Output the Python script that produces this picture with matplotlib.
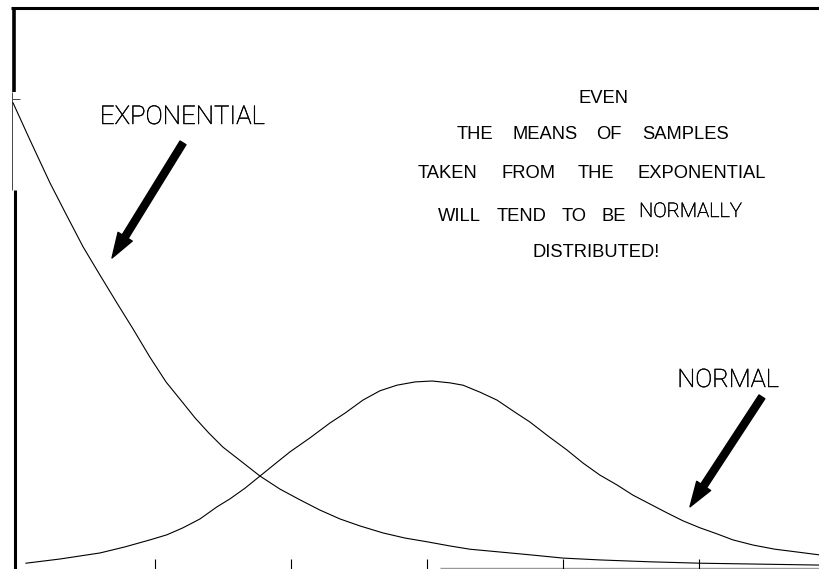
import matplotlib
matplotlib.use("Agg")
import matplotlib.pyplot as plt
import matplotlib.patheffects as pe

# ---- data (x: tick units, y: height relative to exponential start) ----
exp_x = [-0.044, 0.081, 0.228, 0.346, 0.471, 0.596, 0.721, 0.838, 0.963, 1.081,
         1.206, 1.294, 1.397, 1.500, 1.632, 1.772, 1.919, 2.066, 2.213, 2.360,
         2.507, 2.676, 2.838, 3.000, 3.169, 3.316, 3.537, 3.757, 4.000, 4.272,
         4.640, 5.007, 5.449, 5.882]
exp_y = [0.994, 0.914, 0.822, 0.755, 0.685, 0.624, 0.564, 0.509, 0.448, 0.395,
         0.350, 0.318, 0.285, 0.255, 0.225, 0.193, 0.165, 0.142, 0.120, 0.101,
         0.086, 0.071, 0.060, 0.052, 0.043, 0.036, 0.030, 0.024, 0.017, 0.013,
         0.009, 0.006, 0.004, 0.002]

norm_x = [0.051, 0.301, 0.596, 0.779, 0.963, 1.088, 1.206, 1.331, 1.456, 1.551,
          1.662, 1.772, 1.882, 1.993, 2.140, 2.287, 2.397, 2.529, 2.654, 2.779,
          2.912, 3.037, 3.169, 3.265, 3.390, 3.515, 3.647, 3.757, 3.890, 4.029,
          4.147, 4.272, 4.397, 4.515, 4.640, 4.765, 4.882, 5.007, 5.132, 5.250,
          5.397, 5.559, 5.669, 5.882]
norm_y = [0.006, 0.015, 0.028, 0.041, 0.056, 0.067, 0.082, 0.101, 0.127, 0.144,
          0.167, 0.193, 0.219, 0.245, 0.275, 0.307, 0.328, 0.356, 0.376, 0.388,
          0.395, 0.397, 0.393, 0.388, 0.373, 0.356, 0.330, 0.309, 0.279, 0.249,
          0.221, 0.195, 0.174, 0.152, 0.133, 0.114, 0.097, 0.082, 0.069, 0.056,
          0.045, 0.036, 0.032, 0.024]

tick_positions = [1, 2, 3, 4, 5]

msg_lines = [
    ["EVEN"],
    ["THE", "MEANS", "OF", "SAMPLES"],
    ["TAKEN", "FROM", "THE", "EXPONENTIAL"],
    ["WILL", "TEND", "TO", "BE"],
    ["DISTRIBUTED!"],
]
label_exp = "EXPONENTIAL"
label_norm = "NORMAL"
label_normally = "NORMALLY"

# ---- layout ----
W, H = 820, 569
fig = plt.figure(figsize=(W / 100, H / 100), dpi=100)
ax = fig.add_axes([0, 0, 1, 1])
ax.set_xlim(-0.1397, 5.890)
ax.set_ylim(-0.00644, 1.2146)
ax.axis("off")


def fx(px):
    return px / W


def fy(py):
    return 1 - py / H


def frame_line(p1, p2, lw, color="black"):
    ax.plot([fx(p1[0]), fx(p2[0])], [fy(p1[1]), fy(p2[1])], transform=ax.transAxes,
            color=color, lw=lw, solid_capstyle="butt", clip_on=False)


# frame
frame_line((11, 8), (820, 8), 2.2)
frame_line((14, 7), (14, 92), 2.6)
frame_line((12, 92), (12, 190), 0.7, "#444444")
frame_line((14.7, 190), (14.7, 569), 2.2)
frame_line((12, 99), (20, 99), 0.7, "#444444")
frame_line((440, 567.5), (820, 567.5), 1.0, "#999999")

# curves
ax.plot(exp_x, exp_y, color="black", lw=0.8, solid_joinstyle="round")
ax.plot(norm_x, norm_y, color="black", lw=0.8, solid_joinstyle="round")

# ticks
ax.vlines(tick_positions, -0.00644, 0.015, color="black", lw=0.8)

# arrows
arrow_kw = dict(arrowstyle="simple,head_length=0.9,head_width=0.6,tail_width=0.25",
                color="black", mutation_scale=20, shrinkA=0, shrinkB=0)
ax.annotate("", xy=(0.684, 0.661), xytext=(1.206, 0.908), arrowprops=arrow_kw)
ax.annotate("", xy=(4.934, 0.127), xytext=(5.463, 0.363), arrowprops=arrow_kw)

# labels in thin plotter-like font
thin = dict(family=["Roboto", "DejaVu Sans"], fontweight="light", color="black",
            path_effects=[pe.withStroke(linewidth=0.35, foreground="black")])
ax.text(fx(182.5), fy(124), label_exp, transform=ax.transAxes, ha="center",
        va="baseline", fontsize=18.6, **thin)
ax.text(fx(728), fy(387), label_norm, transform=ax.transAxes, ha="center",
        va="baseline", fontsize=18.3, **thin)
ax.text(fx(639), fy(217), label_normally, transform=ax.transAxes, ha="left",
        va="baseline", fontsize=14.5, **thin)

# message text
body = dict(family=["Liberation Sans", "DejaVu Sans"], fontsize=13.2, color="black")
word_x = [[579], [457, 512, 596, 642], [418, 502, 578, 638], [438, 497, 562, 602], [533]]
line_base = [103, 139, 178, 221, 257]
for words, xs, base in zip(msg_lines, word_x, line_base):
    for w, x in zip(words, xs):
        ax.text(fx(x), fy(base), w, transform=ax.transAxes, ha="left",
                va="baseline", **body)

fig.savefig("out.png", dpi=100, facecolor="white")
